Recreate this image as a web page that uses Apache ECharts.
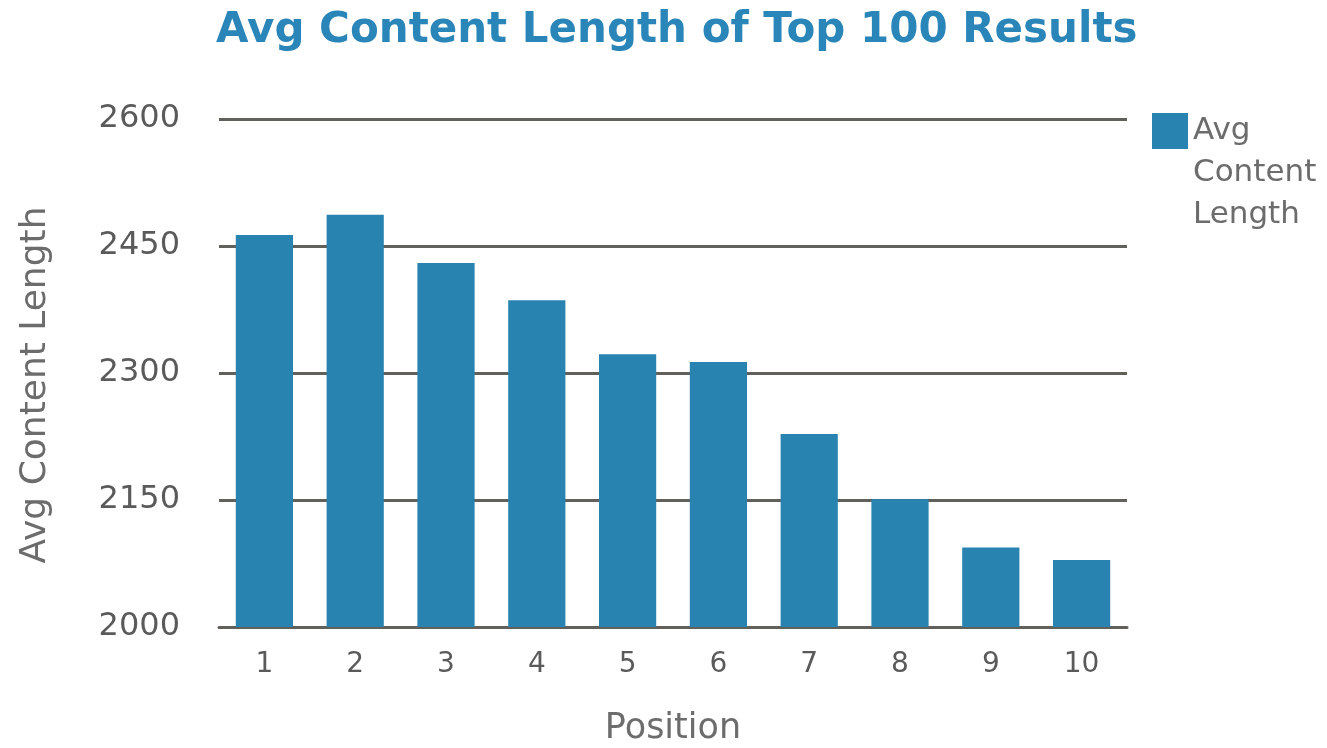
<!DOCTYPE html>
<html style="height: 100%; margin: 0; padding: 0;">
<head>
    <meta charset="utf-8">
    <title>Avg Content Length of Top 100 Results</title>
    <script src="https://cdn.jsdelivr.net/npm/echarts@6.0.0/dist/echarts.min.js"></script>
    <style>
        body, html {
            height: 100%;
            margin: 0;
            padding: 0;
            background-color: #ffffff;
        }
        #main {
            width: 1327px;
            height: 748px;
        }
    </style>
</head>
<body>
<div id="main"></div>
<script type="text/javascript">
    // data
    var positions = ['1', '2', '3', '4', '5', '6', '7', '8', '9', '10'];
    var avgLength = [2463, 2487, 2430, 2386, 2322, 2313, 2228, 2151, 2094, 2079];
    var yTicks = [2000, 2150, 2300, 2450, 2600];

    var lineColor = '#62605b';
    var textColor = '#5a5a5a';
    var nameColor = '#6c6c6c';
    var font = 'DejaVu Sans';

    var myChart = echarts.init(document.getElementById('main'));

    var option = {
        animation: false,
        title: {
            text: 'Avg Content Length of Top 100 Results',
            left: 211,
            top: 5,
            textStyle: {
                color: '#2a85b8',
                fontFamily: font,
                fontWeight: 'bold',
                fontSize: 42
            }
        },
        legend: {
            left: 1147,
            top: 58,
            orient: 'vertical',
            itemWidth: 36,
            itemHeight: 36,
            itemGap: 12,
            icon: 'rect',
            // first line sits level with the swatch, the rest hang below it
            formatter: function (name) {
                var words = name.split(' ');
                return '{s| }\n' + words.map(function (w) { return '{t|' + w + '}'; }).join('\n');
            },
            textStyle: {
                color: nameColor,
                fontFamily: font,
                fontSize: 31,
                rich: {
                    s: { fontSize: 10, lineHeight: 84 },
                    t: { color: nameColor, fontFamily: font, fontSize: 31, lineHeight: 42 }
                }
            },
            data: ['Avg Content Length']
        },
        grid: {
            left: 219,
            right: 200,
            top: 119,
            bottom: 121,
            outerBoundsMode: 'none'
        },
        xAxis: {
            type: 'category',
            data: positions,
            name: 'Position',
            nameLocation: 'middle',
            nameGap: 84,
            nameTextStyle: {
                color: nameColor,
                fontFamily: font,
                fontSize: 35
            },
            axisLine: { lineStyle: { color: lineColor, width: 3 } },
            axisTick: { show: false },
            axisLabel: {
                color: textColor,
                fontFamily: font,
                fontSize: 28,
                margin: 24
            }
        },
        yAxis: {
            type: 'value',
            min: yTicks[0],
            max: yTicks[yTicks.length - 1],
            interval: 150,
            name: 'Avg Content Length',
            nameLocation: 'middle',
            nameRotate: 90,
            nameGap: 165,
            nameTextStyle: {
                color: nameColor,
                fontFamily: font,
                fontSize: 36,
                padding: [0, 24, 0, 0]
            },
            axisLine: { show: false },
            axisTick: { show: false },
            splitLine: { lineStyle: { color: lineColor, width: 3 } },
            axisLabel: {
                color: textColor,
                fontFamily: font,
                fontSize: 32,
                margin: 39,
                formatter: function (v) { return String(v); }
            }
        },
        series: [
            {
                name: 'Avg Content Length',
                type: 'bar',
                data: avgLength,
                barWidth: '63%',
                itemStyle: { color: '#2983b1' }
            }
        ]
    };

    myChart.setOption(option);
</script>
</body>
</html>
